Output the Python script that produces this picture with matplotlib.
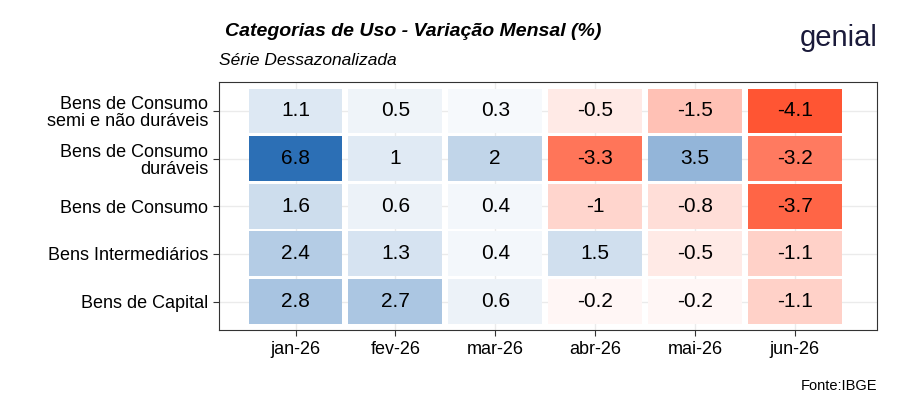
import matplotlib.pyplot as plt
import numpy as np
from matplotlib.colors import LinearSegmentedColormap, TwoSlopeNorm

plt.rcParams['font.family'] = ['Liberation Sans', 'DejaVu Sans']

meses = ['jan-26', 'fev-26', 'mar-26', 'abr-26', 'mai-26', 'jun-26']
categorias = ['Bens de Capital', 'Bens Intermediários', 'Bens de Consumo',
              'Bens de Consumo\nduráveis', 'Bens de Consumo\nsemi e não duráveis']
valores = np.array([
    [2.8, 2.7, 0.6, -0.2, -0.2, -1.1],
    [2.4, 1.3, 0.4, 1.5, -0.5, -1.1],
    [1.6, 0.6, 0.4, -1, -0.8, -3.7],
    [6.8, 1, 2, -3.3, 3.5, -3.2],
    [1.1, 0.5, 0.3, -0.5, -1.5, -4.1],
])

cmap = LinearSegmentedColormap.from_list('div', ['#ff5533', '#ffffff', '#2c6fb5'])
norm = TwoSlopeNorm(vmin=valores.min(), vcenter=0, vmax=valores.max())

fig = plt.figure(figsize=(9, 4.2), dpi=100)
ax = fig.add_axes([0.243, 0.214, 0.731, 0.59])

for i in range(len(categorias)):
    for j in range(len(meses)):
        v = valores[i, j]
        ax.add_patch(plt.Rectangle((j - 0.47, i - 0.47), 0.94, 0.94,
                                   facecolor=cmap(norm(v)), edgecolor='none', zorder=2))
        ax.text(j, i, f'{v:g}', ha='center', va='center', fontsize=15, zorder=3)

ax.set_xlim(-0.77, 5.82)
ax.set_ylim(-0.6, 4.6)
ax.set_xticks(range(len(meses)))
ax.set_xticklabels(meses, fontsize=13)
ax.set_yticks(range(len(categorias)))
ax.set_yticklabels(categorias, fontsize=13, linespacing=1.0, multialignment='right')
ax.grid(True, color='#ebebeb', linewidth=1, zorder=0)
ax.set_axisbelow(True)
ax.tick_params(length=4, color='#333333')
for s in ax.spines.values():
    s.set_color('#333333')
    s.set_linewidth(0.8)

fig.text(0.25, 0.925, 'Categorias de Uso - Variação Mensal (%)', fontsize=14,
         fontweight='bold', style='italic', ha='left', va='center')
fig.text(0.243, 0.855, 'Série Dessazonalizada', fontsize=12.5, style='italic',
         ha='left', va='center')
fig.text(0.975, 0.91, 'genial', fontsize=21, color='#1a1a3a', ha='right', va='center')
fig.text(0.975, 0.08, 'Fonte:IBGE', fontsize=10.5, ha='right', va='center')

fig.savefig('out.png', dpi=100)
